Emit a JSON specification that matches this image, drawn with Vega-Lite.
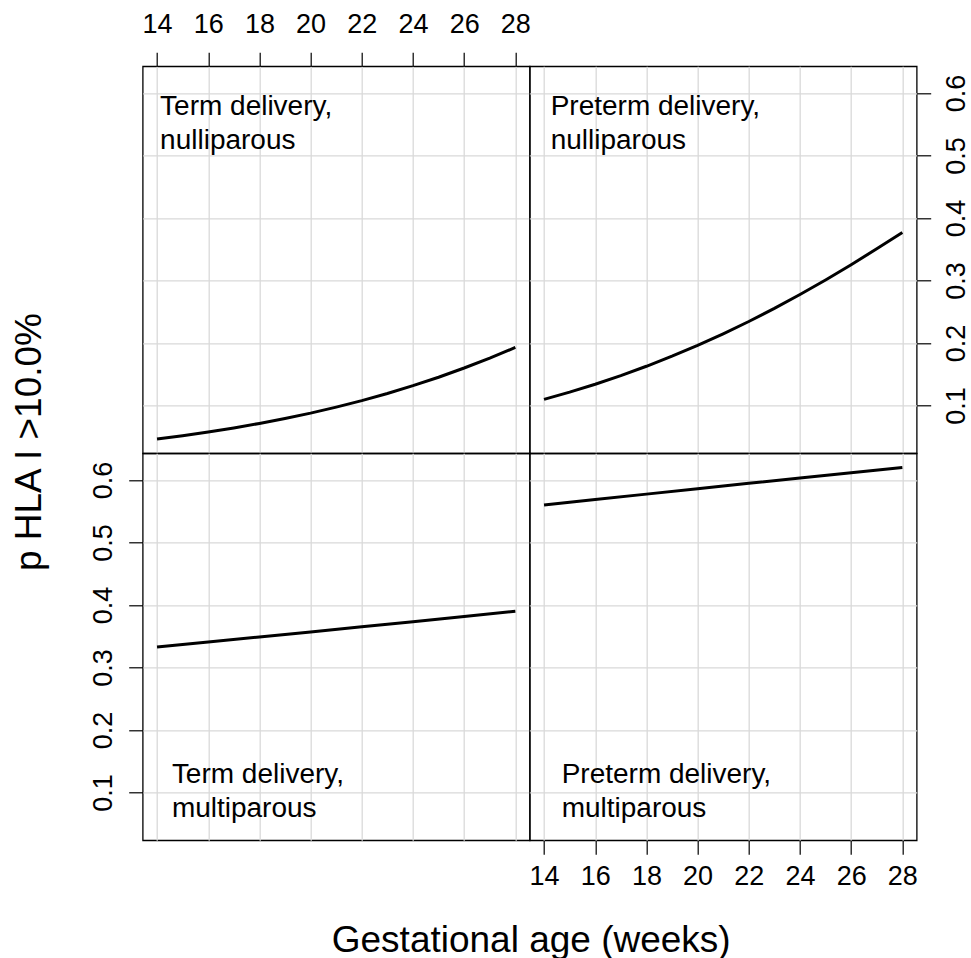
{
  "$schema": "https://vega.github.io/schema/vega-lite/v6.json",
  "padding": {"left": 9.7, "top": 9.3, "right": 6, "bottom": 0},
  "background": "white",
  "datasets": {
    "curves": [
      {"panel": "TN", "ga": 14, "p": 0.0466}, {"panel": "TN", "ga": 15, "p": 0.0519}, {"panel": "TN", "ga": 16, "p": 0.0578}, {"panel": "TN", "ga": 17, "p": 0.0643}, {"panel": "TN", "ga": 18, "p": 0.0715}, {"panel": "TN", "ga": 19, "p": 0.0794}, {"panel": "TN", "ga": 20, "p": 0.088}, {"panel": "TN", "ga": 21, "p": 0.0976}, {"panel": "TN", "ga": 22, "p": 0.108}, {"panel": "TN", "ga": 23, "p": 0.1194}, {"panel": "TN", "ga": 24, "p": 0.1319}, {"panel": "TN", "ga": 25, "p": 0.1454}, {"panel": "TN", "ga": 26, "p": 0.1601}, {"panel": "TN", "ga": 27, "p": 0.176}, {"panel": "TN", "ga": 28, "p": 0.193},
      {"panel": "PN", "ga": 14, "p": 0.110}, {"panel": "PN", "ga": 15, "p": 0.1216}, {"panel": "PN", "ga": 16, "p": 0.1342}, {"panel": "PN", "ga": 17, "p": 0.148}, {"panel": "PN", "ga": 18, "p": 0.1629}, {"panel": "PN", "ga": 19, "p": 0.179}, {"panel": "PN", "ga": 20, "p": 0.1962}, {"panel": "PN", "ga": 21, "p": 0.2148}, {"panel": "PN", "ga": 22, "p": 0.2345}, {"panel": "PN", "ga": 23, "p": 0.2555}, {"panel": "PN", "ga": 24, "p": 0.2777}, {"panel": "PN", "ga": 25, "p": 0.301}, {"panel": "PN", "ga": 26, "p": 0.3254}, {"panel": "PN", "ga": 27, "p": 0.3508}, {"panel": "PN", "ga": 28, "p": 0.377},
      {"panel": "TM", "ga": 14, "p": 0.333}, {"panel": "TM", "ga": 16, "p": 0.341}, {"panel": "TM", "ga": 18, "p": 0.349}, {"panel": "TM", "ga": 20, "p": 0.357}, {"panel": "TM", "ga": 22, "p": 0.3652}, {"panel": "TM", "ga": 24, "p": 0.3734}, {"panel": "TM", "ga": 26, "p": 0.3817}, {"panel": "TM", "ga": 28, "p": 0.390},
      {"panel": "PM", "ga": 14, "p": 0.560}, {"panel": "PM", "ga": 16, "p": 0.5687}, {"panel": "PM", "ga": 18, "p": 0.5774}, {"panel": "PM", "ga": 20, "p": 0.5861}, {"panel": "PM", "ga": 22, "p": 0.5947}, {"panel": "PM", "ga": 24, "p": 0.6032}, {"panel": "PM", "ga": 26, "p": 0.6117}, {"panel": "PM", "ga": 28, "p": 0.620}
    ],
    "labels": [
      {"panel": "TN", "label": "Term delivery,\nnulliparous"},
      {"panel": "PN", "label": "Preterm delivery,\nnulliparous"},
      {"panel": "TM", "label": "Term delivery,\nmultiparous"},
      {"panel": "PM", "label": "Preterm delivery,\nmultiparous"}
    ]
  },
  "columns": 2,
  "spacing": 0,
  "bounds": "flush",
  "concat": [
    {
      "width": 387, "height": 387,
      "layer": [
        {
          "data": {"name": "curves"},
          "transform": [{"filter": "datum.panel === 'TN'"}],
          "mark": {"type": "line", "color": "black", "strokeWidth": 3},
          "encoding": {
            "x": {"field": "ga", "type": "quantitative", "scale": {"domain": [13.44, 28.56], "nice": false, "zero": false},
                  "axis": {"orient": "top", "values": [14, 16, 18, 20, 22, 24, 26, 28], "format": "d", "title": null, "labelBaseline": "alphabetic", "labelPadding": 20}},
            "y": {"field": "p", "type": "quantitative", "scale": {"domain": [0.0237, 0.6427], "nice": false, "zero": false},
                  "axis": {"orient": "left", "values": [0.1, 0.2, 0.3, 0.4, 0.5, 0.6], "labels": false, "ticks": false, "title": null}}
          }
        },
        {
          "data": {"name": "labels"},
          "transform": [{"filter": "datum.panel === 'TN'"}],
          "mark": {"type": "text", "align": "left", "baseline": "alphabetic", "fontSize": 28, "lineHeight": 34, "lineBreak": "\n", "color": "black"},
          "encoding": {
            "x": {"datum": 14.12, "type": "quantitative"},
            "y": {"datum": 0.5652, "type": "quantitative"},
            "text": {"field": "label"}
          }
        }
      ]
    },
    {
      "width": 387, "height": 387,
      "layer": [
        {
          "data": {"name": "curves"},
          "transform": [{"filter": "datum.panel === 'PN'"}],
          "mark": {"type": "line", "color": "black", "strokeWidth": 3},
          "encoding": {
            "x": {"field": "ga", "type": "quantitative", "scale": {"domain": [13.44, 28.56], "nice": false, "zero": false},
                  "axis": {"orient": "top", "values": [14, 16, 18, 20, 22, 24, 26, 28], "labels": false, "ticks": false, "title": null}},
            "y": {"field": "p", "type": "quantitative", "scale": {"domain": [0.0237, 0.6427], "nice": false, "zero": false},
                  "axis": {"orient": "right", "values": [0.1, 0.2, 0.3, 0.4, 0.5, 0.6], "format": ".1f", "title": null, "labelAngle": -90, "labelAlign": "center", "labelBaseline": "top", "labelPadding": 13}}
          }
        },
        {
          "data": {"name": "labels"},
          "transform": [{"filter": "datum.panel === 'PN'"}],
          "mark": {"type": "text", "align": "left", "baseline": "alphabetic", "fontSize": 28, "lineHeight": 34, "lineBreak": "\n", "color": "black"},
          "encoding": {
            "x": {"datum": 14.26, "type": "quantitative"},
            "y": {"datum": 0.5652, "type": "quantitative"},
            "text": {"field": "label"}
          }
        }
      ]
    },
    {
      "width": 387, "height": 387,
      "layer": [
        {
          "data": {"name": "curves"},
          "transform": [{"filter": "datum.panel === 'TM'"}],
          "mark": {"type": "line", "color": "black", "strokeWidth": 3},
          "encoding": {
            "x": {"field": "ga", "type": "quantitative", "scale": {"domain": [13.44, 28.56], "nice": false, "zero": false},
                  "axis": {"orient": "bottom", "values": [14, 16, 18, 20, 22, 24, 26, 28], "labels": false, "ticks": false, "title": null}},
            "y": {"field": "p", "type": "quantitative", "scale": {"domain": [0.0237, 0.6427], "nice": false, "zero": false},
                  "axis": {"orient": "left", "values": [0.1, 0.2, 0.3, 0.4, 0.5, 0.6], "format": ".1f", "labelAngle": -90, "labelAlign": "center", "labelBaseline": "alphabetic", "labelPadding": 17,
                           "title": "p HLA I >10.0%", "titleFontSize": 37, "titleFontWeight": "normal", "titleColor": "black", "titleAngle": -90, "titleAlign": "center", "titleBaseline": "alphabetic", "titleX": -101.7, "titleY": -11.7}}
          }
        },
        {
          "data": {"name": "labels"},
          "transform": [{"filter": "datum.panel === 'TM'"}],
          "mark": {"type": "text", "align": "left", "baseline": "alphabetic", "fontSize": 28, "lineHeight": 34, "lineBreak": "\n", "color": "black"},
          "encoding": {
            "x": {"datum": 14.58, "type": "quantitative"},
            "y": {"datum": 0.1156, "type": "quantitative"},
            "text": {"field": "label"}
          }
        }
      ]
    },
    {
      "width": 387, "height": 387,
      "layer": [
        {
          "data": {"name": "curves"},
          "transform": [{"filter": "datum.panel === 'PM'"}],
          "mark": {"type": "line", "color": "black", "strokeWidth": 3},
          "encoding": {
            "x": {"field": "ga", "type": "quantitative", "scale": {"domain": [13.44, 28.56], "nice": false, "zero": false},
                  "axis": {"orient": "bottom", "values": [14, 16, 18, 20, 22, 24, 26, 28], "format": "d", "labelBaseline": "top", "labelPadding": 9,
                           "title": "Gestational age (weeks)", "titleFontSize": 37, "titleFontWeight": "normal", "titleColor": "black", "titleAlign": "center", "titleBaseline": "alphabetic", "titleX": 1, "titleY": 111}},
            "y": {"field": "p", "type": "quantitative", "scale": {"domain": [0.0237, 0.6427], "nice": false, "zero": false},
                  "axis": {"orient": "right", "values": [0.1, 0.2, 0.3, 0.4, 0.5, 0.6], "labels": false, "ticks": false, "title": null}}
          }
        },
        {
          "data": {"name": "labels"},
          "transform": [{"filter": "datum.panel === 'PM'"}],
          "mark": {"type": "text", "align": "left", "baseline": "alphabetic", "fontSize": 28, "lineHeight": 34, "lineBreak": "\n", "color": "black"},
          "encoding": {
            "x": {"datum": 14.69, "type": "quantitative"},
            "y": {"datum": 0.1156, "type": "quantitative"},
            "text": {"field": "label"}
          }
        }
      ]
    }
  ],
  "config": {
    "font": "Liberation Sans",
    "view": {"stroke": "black", "strokeWidth": 1.3},
    "axis": {
      "domain": false,
      "grid": true,
      "gridColor": "#d9d9d9",
      "gridWidth": 1.3,
      "labelFontSize": 27,
      "labelColor": "black",
      "labelFlush": false,
      "labelOverlap": false,
      "tickColor": "black",
      "tickSize": 14,
      "tickWidth": 1.2
    }
  }
}
